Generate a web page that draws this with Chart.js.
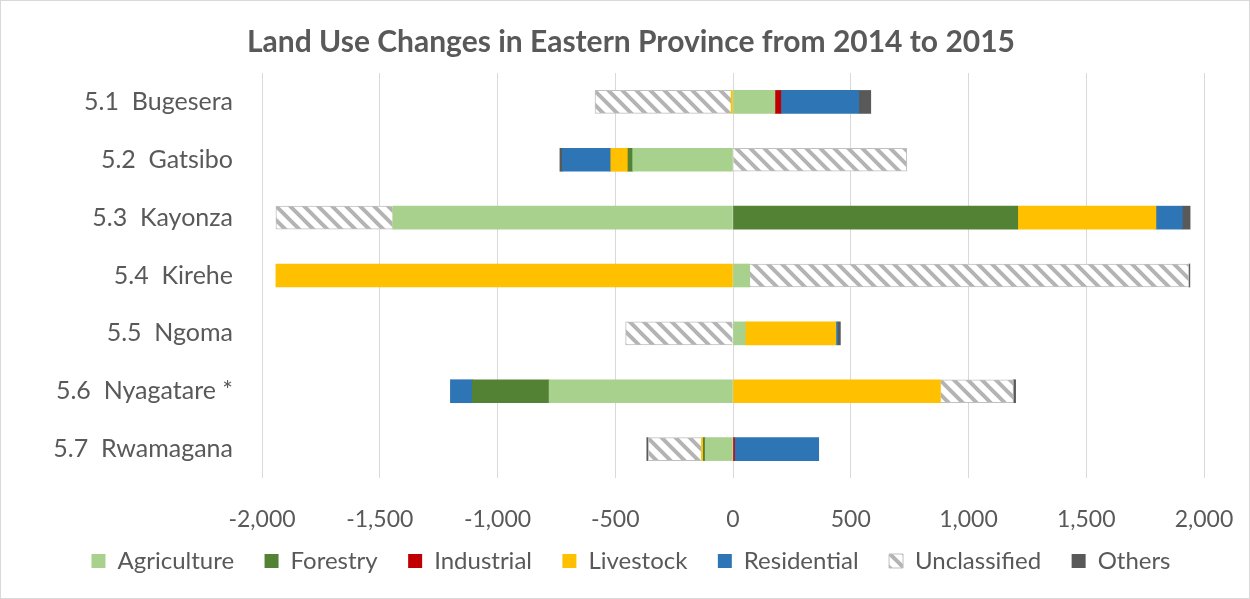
<!DOCTYPE html>
<html>
<head>
<meta charset="utf-8">
<title>Land Use Changes in Eastern Province</title>
<script src="https://cdn.jsdelivr.net/npm/chart.js@4.4.1/dist/chart.umd.min.js"></script>
<style>
    html, body { margin: 0; padding: 0; background: #fff; }
    #wrap { position: relative; width: 1248px; height: 597px; border: 1px solid #d9d9d9; }
</style>
</head>
<body>
<div id="wrap"><canvas id="land-chart"></canvas></div>
<script>
// 数据 (null = 该类无变化)
const districts = ['5.1  Bugesera', '5.2  Gatsibo', '5.3  Kayonza', '5.4  Kirehe', '5.5  Ngoma', '5.6  Nyagatare *', '5.7  Rwamagana'];
const agriculture = [178, -426, -1445, 71, 52, -781, -118];
const forestry = [null, -20, 1209, null, null, -326, -8];
const industrial = [25, null, null, null, null, null, 6];
const livestock = [-8, -73, 587, -1941, 385, 881, -8];
const residential = [331, -206, 112, null, 8, -93, 358];
const unclassified = [-578, 738, -496, 1865, -456, 310, -226];
const others = [51, -10, 33, 4, 11, 9, -6];
const xTicks = [-2000, -1500, -1000, -500, 0, 500, 1000, 1500, 2000];

const textColor = '#595959';
const fontFamily = 'Lato, "Liberation Sans", sans-serif';

// 斜线填充
function makeHatch() {
    const c = document.createElement('canvas');
    c.width = 14;
    c.height = 14;
    const g = c.getContext('2d');
    g.fillStyle = '#ffffff';
    g.fillRect(0, 0, 14, 14);
    g.strokeStyle = '#b4b4b4';
    g.lineWidth = 4;
    g.beginPath();
    g.moveTo(-2, -2); g.lineTo(16, 16);
    g.moveTo(-16, -2); g.lineTo(2, 16);
    g.moveTo(12, -2); g.lineTo(30, 16);
    g.stroke();
    return g.createPattern(c, 'repeat');
}

function ds(label, data, color, border) {
    return {
        label: label,
        data: data,
        backgroundColor: color,
        borderColor: border || color,
        borderWidth: border ? 1 : 0,
        barThickness: 23
    };
}

const hatch = makeHatch();

new Chart(document.getElementById('land-chart'), {
    type: 'bar',
    data: {
        labels: districts,
        datasets: [
            ds('Agriculture', agriculture, '#A9D18E'),
            ds('Forestry', forestry, '#548235'),
            ds('Industrial', industrial, '#C00000'),
            ds('Livestock', livestock, '#FFC000'),
            ds('Residential', residential, '#2E75B6'),
            ds('Unclassified', unclassified, hatch, '#bfbfbf'),
            ds('Others', others, '#595959')
        ]
    },
    options: {
        indexAxis: 'y',
        responsive: true,
        maintainAspectRatio: false,
        animation: false,
        layout: { padding: { left: 12, right: 0, top: 0, bottom: 15 } },
        plugins: {
            title: {
                display: true,
                text: 'Land Use Changes in Eastern Province from 2014 to 2015',
                color: textColor,
                font: { family: fontFamily, size: 30, weight: 'bold' },
                padding: { top: 23, bottom: 13 }
            },
            legend: {
                position: 'bottom',
                labels: {
                    color: textColor,
                    font: { family: fontFamily, size: 24 },
                    boxWidth: 14,
                    boxHeight: 14,
                    padding: 12,
                    // 图例项之间多留一点间距
                    generateLabels: function(chart) {
                        const items = Chart.defaults.plugins.legend.labels.generateLabels(chart);
                        items.forEach((it, i) => {
                            if (i < items.length - 1) it.text = it.text + '   ';
                        });
                        return items;
                    }
                }
            },
            tooltip: { enabled: false }
        },
        scales: {
            x: {
                stacked: true,
                min: -2000,
                max: 2000,
                afterBuildTicks: function(scale) {
                    scale.ticks = xTicks.map(v => ({ value: v }));
                },
                afterFit: function(scale) {
                    scale.height = 59;
                    scale.paddingRight = 0;
                },
                grid: { color: '#d9d9d9', drawTicks: false },
                border: { display: false },
                ticks: {
                    color: textColor,
                    font: { family: fontFamily, size: 23 },
                    padding: 28,
                    callback: v => v.toLocaleString('en-US')
                }
            },
            y: {
                stacked: true,
                afterFit: function(scale) { scale.width = 249; },
                grid: { display: false, drawTicks: false },
                border: { display: false },
                ticks: {
                    color: textColor,
                    font: { family: fontFamily, size: 25 },
                    padding: 29
                }
            },
            // 右侧留白
            yRight: {
                type: 'linear',
                position: 'right',
                min: 0,
                max: 1,
                afterFit: function(scale) { scale.width = 45; },
                grid: { display: false, drawTicks: false },
                border: { display: false },
                ticks: { display: false }
            }
        }
    }
});
</script>
</body>
</html>
